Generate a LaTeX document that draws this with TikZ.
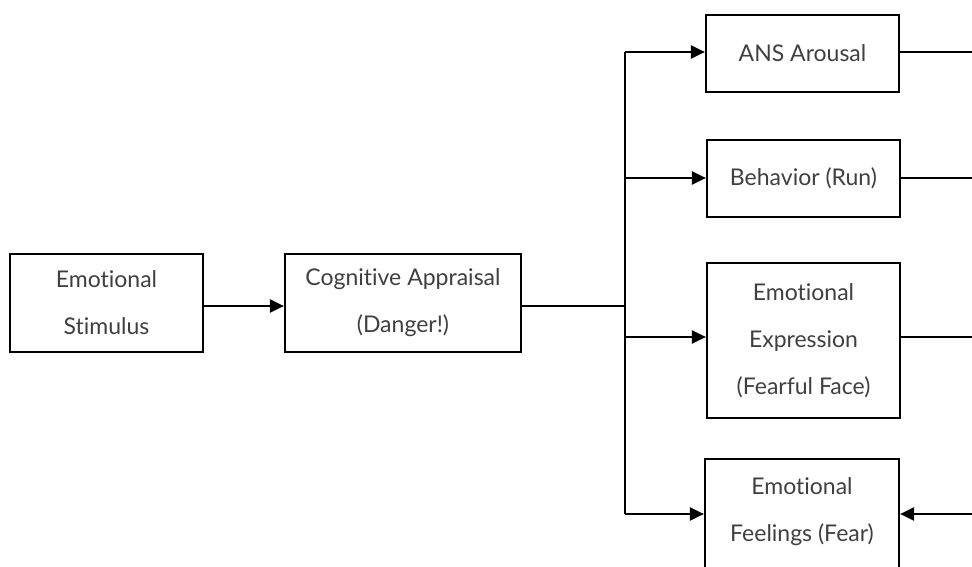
\documentclass[tikz,border=0pt]{standalone}
\usepackage{fontspec}
\newfontfamily\lblfont[Ligatures=NoCommon]{Lato}
\usetikzlibrary{arrows.meta}
\definecolor{txt}{HTML}{404040}
\tikzset{
  box/.style={draw=black, line width=2.2pt, fill=white, inner sep=0pt, align=center,
    font=\lblfont\fontsize{23}{47}\selectfont, text=txt},
  lbl/.style={inner sep=0pt, align=center, font=\lblfont\fontsize{23}{47}\selectfont, text=txt},
  conn/.style={line width=2.2pt, draw=black},
  arr/.style={conn, -{Triangle[length=14pt,width=13pt]}},
}
\begin{document}
\begin{tikzpicture}[x=1pt,y=-1pt]
\clip (0,0) rectangle (972,567);
\fill[white] (0,0) rectangle (972,567);
\node[box, minimum width=193pt, minimum height=98pt] (stim) at (106.5,303) {Emotional\\Stimulus};
\node[box, minimum width=236pt, minimum height=98pt] (appr) at (403,303) {Cognitive Appraisal\\(Danger!)};
\node[box, minimum width=193pt, minimum height=77pt] (ans) at (802.5,53.5) {ANS Arousal};
\node[box, minimum width=193pt, minimum height=77pt] (beh) at (803.5,178.5) {Behavior (Run)};
\node[box, minimum width=193pt, minimum height=155pt] (expr) at (803.5,340.5) {Emotional\\Expression\\(Fearful Face)};
\node[box, minimum width=194pt, minimum height=155pt] (feel) at (802,536.5) {};
\node[lbl] (feeltxt) at (802,512) {Emotional\\Feelings (Fear)};
\coordinate (br) at (625,306);
\coordinate (bt) at (625,52);
\coordinate (bb) at (625,514);
\coordinate (e1) at (980,52);
\coordinate (e2) at (980,178);
\coordinate (e3) at (980,337);
\coordinate (e4) at (980,514);
\draw[arr] (stim.east |- 0,306) -- (appr.west |- 0,306);
\draw[conn] (appr.east |- 0,306) -- (br);
\draw[conn] (bt) -- (bb);
\draw[arr] (bt) -- (ans.west |- bt);
\draw[arr] (625,178) -- (beh.west |- 0,178);
\draw[arr] (625,337) -- (expr.west |- 0,337);
\draw[arr] (bb) -- (feel.west |- bb);
\draw[conn] (ans.east |- e1) -- (e1);
\draw[conn] (beh.east |- e2) -- (e2);
\draw[conn] (expr.east |- e3) -- (e3);
\draw[arr] (e4) -- (feel.east |- e4);
\end{tikzpicture}
\end{document}
